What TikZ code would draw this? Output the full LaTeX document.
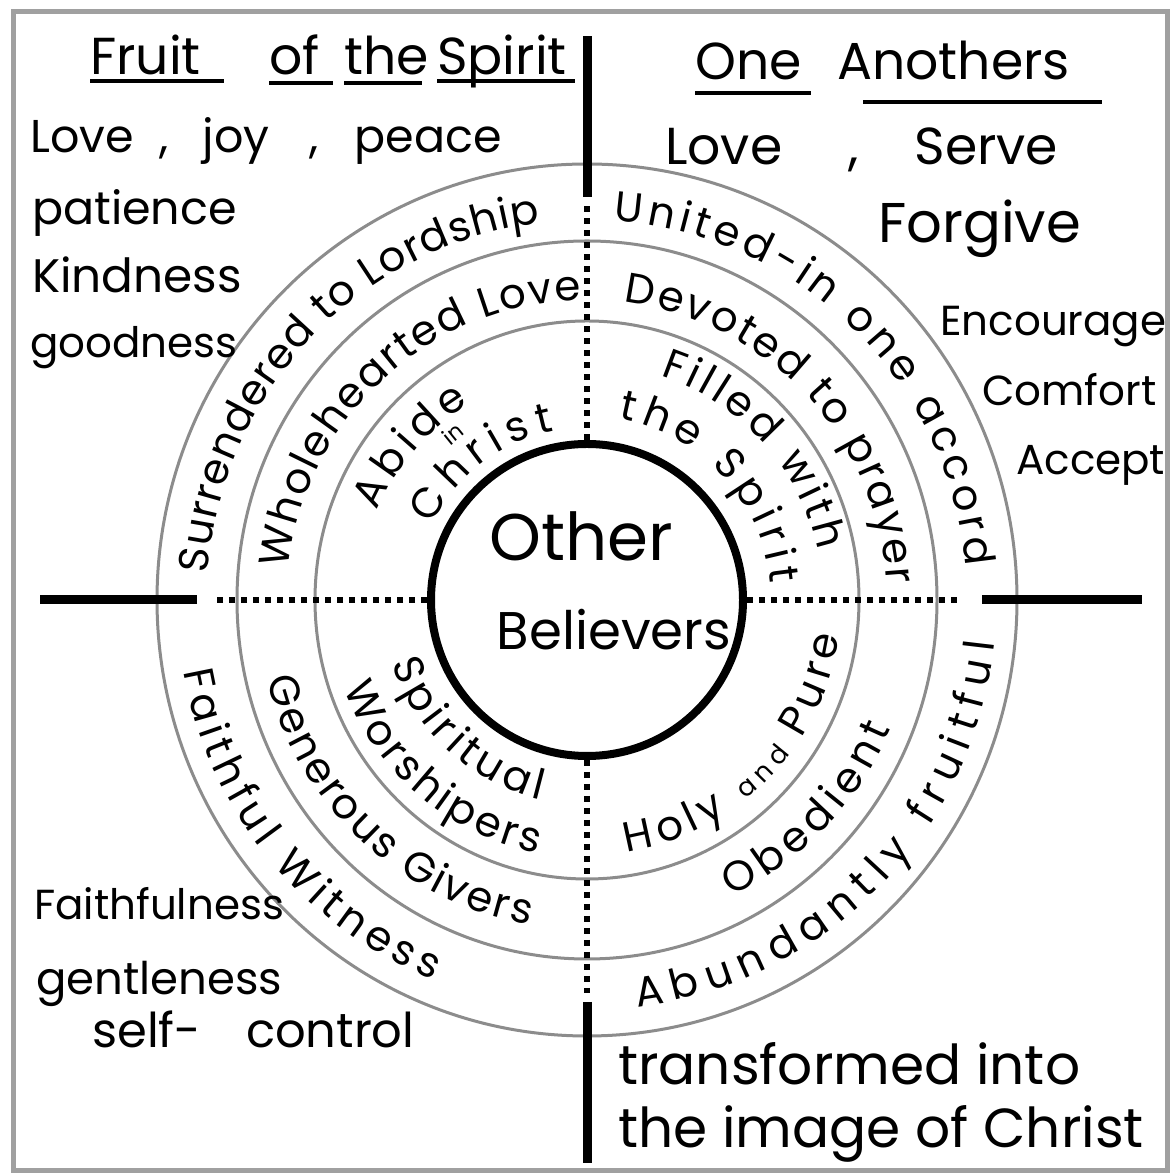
\documentclass[tikz,border=0pt]{standalone}
\usepackage{fontspec}
\setmainfont{Poppins}
\usepackage{tikz}
\usetikzlibrary{decorations.text}
\definecolor{ringGray}{HTML}{8C8C8C}
\definecolor{frameGray}{HTML}{A0A0A0}
\newcommand{\ringfont}{\fontsize{42}{42}\selectfont}
\newcommand{\andfont}{\fontsize{26}{26}\selectfont}

\begin{document}
\begin{tikzpicture}[
  x=1pt, y=1pt,
  ring/.style={draw=ringGray, line width=3pt},
  core/.style={circle, draw=black, line width=8pt, minimum size=312pt, inner sep=0pt},
  bar/.style={line width=9pt},
  dots/.style={line width=6pt, dash pattern=on 6pt off 6pt},
  hand/.style={font=\fontsize{#1}{#1}\selectfont, inner sep=0pt, anchor=base west},
  hand/.default=46,
  head/.style={font=\fontsize{52}{52}\selectfont, inner sep=0pt, anchor=base west,
    text width=#1, align=left},
  uline/.style={line width=4pt},
  ringtxt/.style={decorate, decoration={text along path, text align=fit to path}},
]
  \useasboundingbox (0,0) rectangle (1172,1174);
  \draw[draw=frameGray, line width=5pt] (13,3) rectangle (1167,1162);

  % circles
  \node[core] (core) at (587,574) {};
  \draw[ring] (core.center) ellipse [x radius=272, y radius=279];
  \draw[ring] (core.center) ellipse [x radius=350, y radius=359];
  \draw[ring] (core.center) ellipse [x radius=430, y radius=436];

  % cross
  \coordinate (upDot) at (587,968);
  \coordinate (upBar) at (587,977);
  \coordinate (upEnd) at (587,1138);
  \coordinate (dnDot) at (587,181);
  \coordinate (dnBar) at (587,172);
  \coordinate (dnEnd) at (587,11);
  \coordinate (lfDot) at (212,574);
  \coordinate (lfBar) at (197,574);
  \coordinate (lfEnd) at (40,574);
  \coordinate (rtDot) at (959,574);
  \coordinate (rtBar) at (982,574);
  \coordinate (rtEnd) at (1142,574);

  \draw[dots] (core.north) -- (upDot);
  \draw[dots] (core.south) -- (dnDot);
  \draw[dots] (core.west) -- (lfDot);
  \draw[dots] (core.east) -- (rtDot);
  \draw[bar] (upBar) -- (upEnd);
  \draw[bar] (dnBar) -- (dnEnd);
  \draw[bar] (lfBar) -- (lfEnd);
  \draw[bar] (rtBar) -- (rtEnd);

  \node[font=\fontsize{66}{66}\selectfont] (other) at (581,638) {Other};
  \node[font=\fontsize{53}{53}\selectfont] (believers) at (614,544) {Believers};

  % ring words
  \begin{scope}[shift={(core.center)}]
    \path[ringtxt, decoration={text={|\ringfont|Surrendered to Lordship}}]
      (176:380) arc[start angle=176, end angle=97, radius=380];
    \path[ringtxt, decoration={text={|\ringfont|United-in one accord}}]
      (86:380) arc[start angle=86, end angle=5, radius=380];
    \path[ringtxt, decoration={text={|\ringfont|Wholehearted Love}}]
      (174:300) arc[start angle=174, end angle=91, radius=300];
    \path[ringtxt, decoration={text={|\ringfont|Devoted to prayer}}]
      (83:300) arc[start angle=83, end angle=3, radius=300];
    \path[ringtxt, decoration={text={|\ringfont|Filled with}}]
      (72:236) arc[start angle=72, end angle=12, radius=236];
    \path[ringtxt, decoration={text={|\ringfont|the Spirit}}]
      (80:184) arc[start angle=80, end angle=5, radius=184];
    \path[ringtxt, decoration={text={|\ringfont|Abide}}]
      (157:228) arc[start angle=157, end angle=121, radius=228];
    \path[ringtxt, decoration={text={|\ringfont|Christ}}]
      (154:172) arc[start angle=154, end angle=101, radius=172];
    \node[font=\fontsize{22}{22}\selectfont, rotate=39] (inw) at (129:214) {in};

    \path[ringtxt, decoration={text={|\ringfont|Faithful Witness}}]
      (190:410) arc[start angle=190, end angle=248, radius=410];
    \path[ringtxt, decoration={text={|\ringfont|Generous Givers}}]
      (194:330) arc[start angle=194, end angle=260, radius=330];
    \path[ringtxt, decoration={text={|\ringfont|Spiritual}}]
      (198:205) arc[start angle=198, end angle=257, radius=205];
    \path[ringtxt, decoration={text={|\ringfont|Worshipers}}]
      (200:258) arc[start angle=200, end angle=259, radius=258];
    \path[ringtxt, decoration={text={|\ringfont|Holy |\andfont|and |\ringfont|Pure}}]
      (279:255) arc[start angle=279, end angle=352, radius=255];
    \path[ringtxt, decoration={text={|\ringfont|Obedient}}]
      (296:330) arc[start angle=296, end angle=337, radius=330];
    \path[ringtxt, decoration={text={|\ringfont|Abundantly fruitful}}]
      (277:410) arc[start angle=277, end angle=354, radius=410];
  \end{scope}

  % headings
  \node[head=134pt] (fruit) at (90,1099) {Fruit};
  \node[head=64pt] (ofw) at (269,1099) {of};
  \node[head=78pt] (thew) at (344,1099) {the};
  \node[head=138pt] (spirit) at (437,1099) {Spirit};
  \draw[uline] ([yshift=-6pt]fruit.base west) -- ([yshift=-6pt]fruit.base east);
  \draw[uline] ([yshift=-8pt]ofw.base west) -- ([yshift=-8pt]ofw.base east);
  \draw[uline] ([yshift=-8pt]thew.base west) -- ([yshift=-8pt]thew.base east);
  \draw[uline] ([yshift=-6pt]spirit.base west) -- ([yshift=-6pt]spirit.base east);

  \node[head=116pt] (one) at (695,1094) {One};
  \node[head=265pt] (anoth) at (837,1094) {Anothers};
  \draw[uline] ([yshift=-13pt]one.base west) -- ([yshift=-13pt]one.base east);
  \draw[uline] ([shift={(26pt,-22pt)}]anoth.base west) -- ([yshift=-22pt]anoth.base east);

  % fruit list
  \node[hand] (fr1) at (30,1021) {Love\hspace{26pt},\hspace{34pt}joy\hspace{40pt},\hspace{36pt}peace};
  \node[hand] (fr2) at (32,949) {patience};
  \node[hand=47] (fr3) at (32,881) {Kindness};
  \node[hand=42] (fr4) at (30,816) {goodness};
  \node[hand=42] (fr5) at (34,254) {Faithfulness};
  \node[hand=45] (fr6) at (36,179) {gentleness};
  \node[hand=48] (fr7) at (92,126) {self-\hspace{45pt}control};

  % one another list
  \node[hand=52] (oa1) at (665,1009) {Love\hspace{66pt},\hspace{56pt}Serve};
  \node[hand=56] (oa2) at (878,931) {Forgive};
  \node[hand=42] (oa3) at (940,838) {Encourage};
  \node[hand=42] (oa4) at (982,768) {Comfort};
  \node[hand=42] (oa5) at (1016,699) {Accept};

  \node[hand=55] (goal1) at (618,89) {transformed into};
  \node[hand=55] (goal2) at (618,26) {the image of Christ};
\end{tikzpicture}
\end{document}
